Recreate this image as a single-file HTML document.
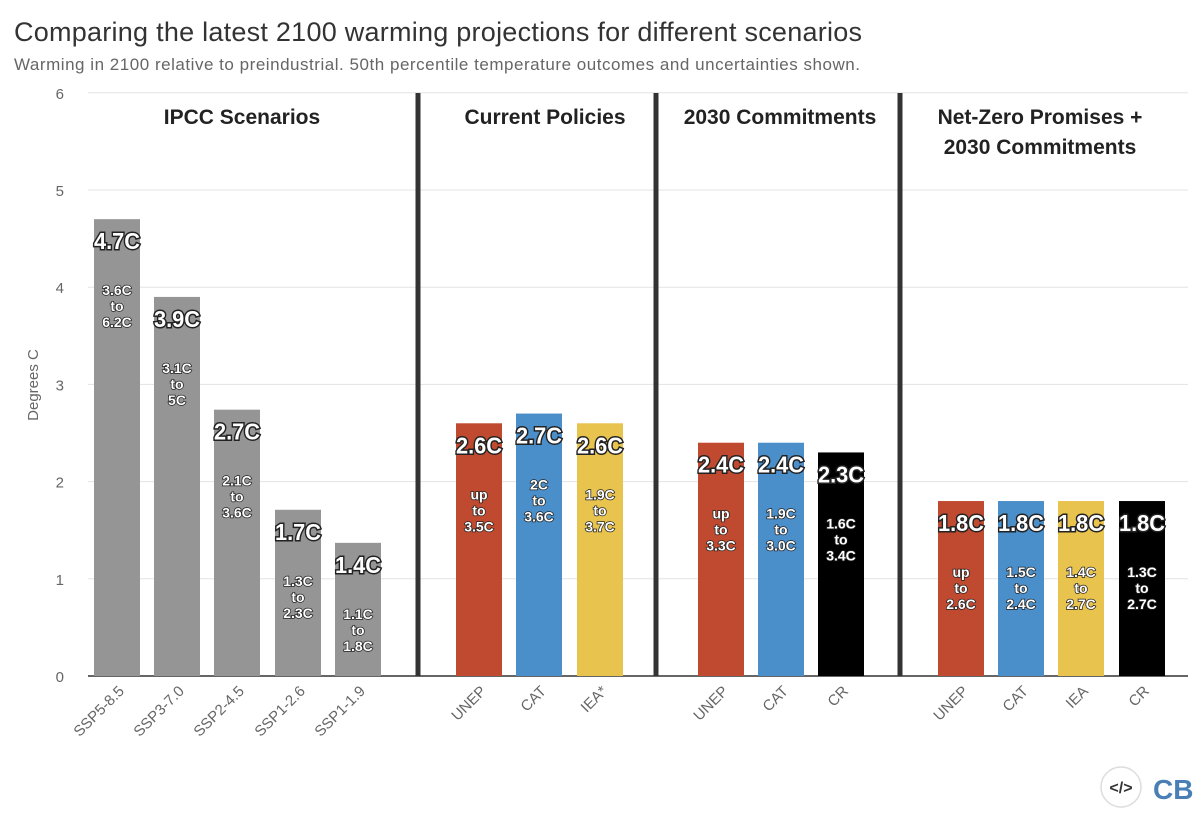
<!DOCTYPE html>
<html><head><meta charset="utf-8"><style>
body{margin:0;background:#fff;font-family:"Liberation Sans",sans-serif}
svg{display:block}
</style></head><body>
<svg id="c" width="1200" height="820">
<text x="14" y="41" font-size="27" fill="#333" textLength="848">Comparing the latest 2100 warming projections for different scenarios</text>
<text x="14" y="70" font-size="17" fill="#666" textLength="846">Warming in 2100 relative to preindustrial. 50th percentile temperature outcomes and uncertainties shown.</text>
<text transform="translate(38,385) rotate(-90)" text-anchor="middle" font-size="15" fill="#666">Degrees C</text>
<g id="grid"></g><g id="bars"></g><g id="labels"></g>
<g>
<circle cx="1121" cy="787" r="20" fill="#fff" stroke="#ddd" stroke-width="1.5"/>
<text x="1121" y="793" text-anchor="middle" font-size="16" font-weight="bold" fill="#333">&lt;/&gt;</text>
<text x="1153" y="799" font-size="28" font-weight="bold" fill="#4a7fb5">CB</text>
</g>
</svg>
<script>
const categories=["SSP5-8.5","SSP3-7.0","SSP2-4.5","SSP1-2.6","SSP1-1.9","UNEP","CAT","IEA*","UNEP","CAT","CR","UNEP","CAT","IEA","CR"];
const values=[4.7,3.9,2.74,1.71,1.37,2.6,2.7,2.6,2.4,2.4,2.3,1.8,1.8,1.8,1.8];
const valueLabels=["4.7C","3.9C","2.7C","1.7C","1.4C","2.6C","2.7C","2.6C","2.4C","2.4C","2.3C","1.8C","1.8C","1.8C","1.8C"];
const rangeLabels=[["3.6C","to","6.2C"],["3.1C","to","5C"],["2.1C","to","3.6C"],["1.3C","to","2.3C"],["1.1C","to","1.8C"],["up","to","3.5C"],["2C","to","3.6C"],["1.9C","to","3.7C"],["up","to","3.3C"],["1.9C","to","3.0C"],["1.6C","to","3.4C"],["up","to","2.6C"],["1.5C","to","2.4C"],["1.4C","to","2.7C"],["1.3C","to","2.7C"]];
const colorKeys=["g","g","g","g","g","r","b","y","r","b","k","r","b","y","k"];
const yTicks=[0,1,2,3,4,5,6];
const groups=[["IPCC Scenarios"],["Current Policies"],["2030 Commitments"],["Net-Zero Promises +","2030 Commitments"]];
const pal={g:"#959595",r:"#c04a30",b:"#4a8fca",y:"#e8c34e",k:"#000"};
const xs=[117,177,237,298,358,479,539,600,721,781,841,961,1021,1081,1142];
const y=v=>676-v*97.2;
const NS="http://www.w3.org/2000/svg";
function mk(t,a,p){const e=document.createElementNS(NS,t);for(const k in a)e.setAttribute(k,a[k]);p.appendChild(e);return e;}
const G=document.getElementById('grid'),B=document.getElementById('bars'),L=document.getElementById('labels');
yTicks.forEach(t=>{
 if(t>0){const l=mk('line',{x1:88,x2:1188,y1:y(t),y2:y(t),stroke:'#e3e3e3','stroke-width':1},G);
 
 }
 const tx=mk('text',{x:64,y:y(t)+6,'text-anchor':'end','font-size':15,fill:'#666'},G);tx.textContent=t;
 
 
});
const ax=mk('line',{x1:88,x2:1188,y1:676,y2:676,stroke:'#333','stroke-width':1.5},G);


[418,656,900].forEach((sx,i)=>{const s=mk('line',{x1:sx,x2:sx,y1:93,y2:676,stroke:'#333','stroke-width':5},G);
 
 });
const gx=[242,545,780,1040];
groups.forEach((g,i)=>{g.forEach((ln,j)=>{const t=mk('text',{x:gx[i],y:124+j*30,'text-anchor':'middle','font-size':21,'font-weight':'bold',fill:'#222'},L);t.textContent=ln;
 
 });});
categories.forEach((c,i)=>{
 const top=y(values[i]);
 const r=mk('rect',{x:xs[i]-23,y:top,width:46,height:676-top,fill:pal[colorKeys[i]]},B);
 
 
 const v=mk('text',{x:xs[i],y:top+30,'text-anchor':'middle','font-size':23,'font-weight':'bold',fill:'#fff',stroke:'#222','stroke-width':3,'paint-order':'stroke',textLength:46,lengthAdjust:'spacingAndGlyphs'},L);v.textContent=valueLabels[i];
 
 
 rangeLabels[i].forEach((ln,j)=>{const t=mk('text',{x:xs[i],y:top+76+j*16,'text-anchor':'middle','font-size':14,'font-weight':'bold',fill:'#fff',stroke:'#222','stroke-width':1.5,'paint-order':'stroke'},L);t.textContent=ln;
  
  });
 const xl=mk('text',{transform:`translate(${xs[i]+8},${692}) rotate(-45)`,'text-anchor':'end','font-size':15,fill:'#666'},L);xl.textContent=c;
 
 
});
</script>
</body></html>
